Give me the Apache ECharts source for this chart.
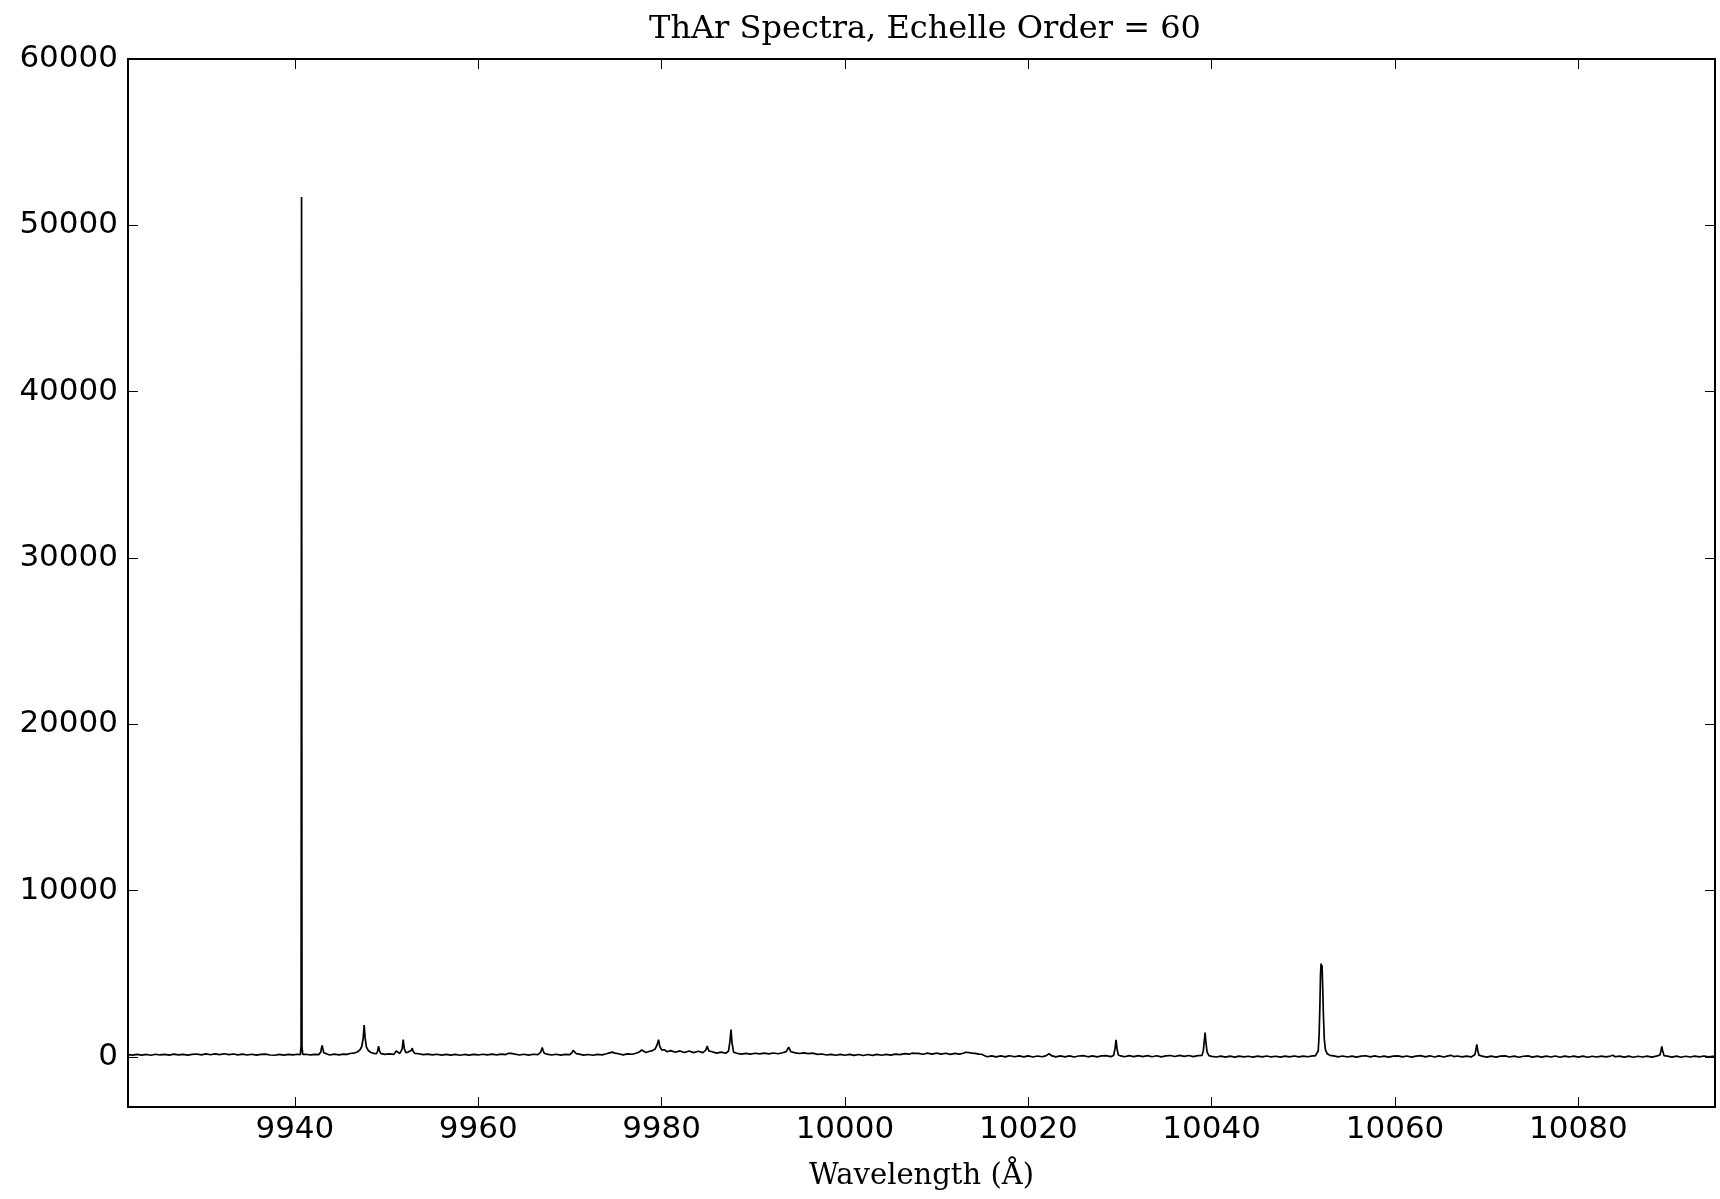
<!DOCTYPE html>
<html>
<head>
<meta charset="utf-8">
<title>ThAr Spectra, Echelle Order = 60</title>
<script src="https://cdn.jsdelivr.net/npm/echarts@6/dist/echarts.min.js"></script>
<style>
  html, body { margin: 0; padding: 0; background: #fff; }
  #chart { width: 1720px; height: 1199px; }
</style>
</head>
<body>
<div id="chart"></div>
<script>
// ThAr lamp spectrum, echelle order 60: [wavelength (Å), counts]
const spec9920to9960 = [
  [9921.8,150],[9922.3,118],[9922.8,165],[9923.3,122],[9923.8,158],[9924.3,110],[9924.8,170],[9925.3,128],
  [9925.8,162],[9926.3,115],[9926.8,175],[9927.3,132],[9927.8,168],[9928.3,120],[9928.8,160],[9929.3,185],
  [9929.8,135],[9930.3,190],[9930.8,140],[9931.3,195],[9931.8,150],[9932.3,200],[9932.8,145],[9933.3,188],
  [9933.8,138],[9934.3,182],[9934.8,125],[9935.3,172],[9935.8,118],[9936.3,165],[9936.8,178],[9937.3,126],
  [9937.8,112],[9938.3,168],[9938.8,122],[9939.3,160],[9939.8,130],[9940.3,170],[9940.6,140],
  [9940.68,700],[9940.73,51700],[9940.78,600],[9940.86,160],
  [9941.2,172],[9941.7,128],[9942.2,168],[9942.6,150],[9942.82,300],[9942.9,540],[9942.98,700],[9943.06,490],
  [9943.15,260],[9943.35,175],[9943.8,128],[9944.3,178],[9944.8,130],[9945.3,182],[9945.7,165],[9946.0,215],
  [9946.4,233],[9946.8,308],[9947.1,438],[9947.3,638],[9947.45,1120],[9947.56,1920],[9947.66,1170],[9947.8,620],
  [9948.0,400],[9948.3,280],[9948.6,220],[9948.9,200],[9949.02,350],[9949.13,660],[9949.24,360],[9949.4,210],
  [9949.8,160],[9950.3,195],[9950.8,165],[9950.95,280],[9951.05,370],[9951.15,250],[9951.45,220],[9951.7,480],
  [9951.82,1050],[9951.93,520],[9952.1,270],[9952.35,300],[9952.55,260],[9952.7,400],[9952.8,540],[9952.9,350],
  [9953.1,220],[9953.5,200],[9954.0,150],[9954.5,182],[9955.0,135],[9955.5,170],[9956.0,122],[9956.5,165],
  [9957.0,118],[9957.5,160],[9958.0,112],[9958.5,158],[9959.0,120],[9959.5,165],[9960.0,128]
];
const spec9960to10000 = [
  [9960.5,170],[9961.0,130],[9961.5,175],[9962.0,138],[9962.5,180],[9963.0,150],[9963.3,230],[9963.46,320],
  [9963.6,220],[9964.0,178],[9964.5,128],[9965.0,172],[9965.5,122],[9966.0,170],[9966.5,150],[9966.8,280],
  [9966.9,440],[9966.98,570],[9967.08,400],[9967.2,230],[9967.5,175],[9968.0,125],[9968.5,172],[9969.0,118],
  [9969.5,165],[9970.0,150],[9970.25,280],[9970.35,410],[9970.44,490],[9970.55,350],[9970.7,210],[9971.0,178],
  [9971.5,120],[9972.0,155],[9972.5,112],[9973.0,160],[9973.5,135],[9974.0,200],[9974.3,250],[9974.62,300],
  [9974.9,240],[9975.3,200],[9975.8,138],[9976.3,195],[9976.8,170],[9977.3,245],[9977.6,320],[9977.82,430],
  [9978.0,310],[9978.3,280],[9978.7,350],[9979.0,390],[9979.3,490],[9979.5,720],[9979.67,1050],[9979.8,640],
  [9980.0,440],[9980.3,440],[9980.6,320],[9981.0,390],[9981.5,290],[9982.0,370],[9982.5,280],[9983.0,365],
  [9983.5,270],[9984.0,350],[9984.5,270],[9984.8,400],[9984.98,670],[9985.15,370],[9985.5,320],[9986.0,235],
  [9986.5,300],[9987.0,230],[9987.3,360],[9987.45,920],[9987.57,1660],[9987.68,870],[9987.85,300],[9988.2,230],
  [9988.7,180],[9989.2,225],[9989.7,175],[9990.2,230],[9990.7,190],[9991.2,240],[9991.7,195],[9992.2,245],
  [9992.7,200],[9993.2,260],[9993.6,330],[9993.86,600],[9994.1,320],[9994.5,265],[9995.0,215],[9995.5,255],
  [9996.0,205],[9996.5,235],[9997.0,160],[9997.5,185],[9998.0,125],[9998.5,162],[9999.0,110],[9999.5,160]
];
const spec10000to10040 = [
  [10000.0,112],[10000.5,160],[10001.0,100],[10001.5,155],[10002.0,95],[10002.5,158],[10003.0,108],[10003.5,165],
  [10004.0,112],[10004.5,160],[10005.0,118],[10005.5,175],[10006.0,150],[10006.5,210],[10007.0,175],[10007.3,233],
  [10007.46,265],[10007.6,223],[10008.0,228],[10008.5,172],[10009.0,235],[10009.5,180],[10010.0,240],[10010.5,175],
  [10011.0,232],[10011.5,168],[10012.0,228],[10012.5,178],[10012.9,233],[10013.15,290],[10013.35,320],[10013.55,273],
  [10013.8,233],[10014.2,225],[10014.6,178],[10014.9,170],[10015.1,60],[10015.5,20],[10016.0,75],[10016.5,15],
  [10017.0,70],[10017.5,10],[10017.85,75],[10018.0,110],[10018.15,65],[10018.5,20],[10019.0,78],[10019.5,18],
  [10020.0,72],[10020.5,5],[10021.0,68],[10021.5,20],[10021.9,75],[10022.1,145],[10022.26,200],[10022.4,125],
  [10022.6,70],[10023.0,15],[10023.5,75],[10024.0,12],[10024.5,70],[10025.0,8],[10025.5,66],[10026.0,85],
  [10026.5,18],[10027.0,74],[10027.5,10],[10028.0,70],[10028.5,90],[10029.0,30],[10029.3,95],[10029.45,465],
  [10029.57,1030],[10029.68,495],[10029.82,125],[10030.1,70],[10030.5,18],[10031.0,85],[10031.5,25],[10032.0,92],
  [10032.5,30],[10033.0,88],[10033.5,22],[10034.0,80],[10034.5,15],[10035.0,75],[10035.5,95],[10036.0,35],
  [10036.5,105],[10037.0,40],[10037.5,98],[10038.0,30],[10038.5,85],[10038.95,105],[10039.1,415],[10039.2,1015],
  [10039.28,1470],[10039.37,915],[10039.5,295],[10039.7,85],[10040.0,45]
];
const spec10040to10095 = [
  [10040.5,5],[10041.0,60],[10041.5,0],[10042.0,55],[10042.5,-5],[10043.0,62],[10043.5,10],[10044.0,50],
  [10044.5,-2],[10045.0,58],[10045.5,12],[10046.0,65],[10046.5,8],[10047.0,52],[10047.5,0],[10048.0,60],
  [10048.5,15],[10049.0,68],[10049.5,10],[10050.0,62],[10050.5,20],[10051.0,70],[10051.3,75],[10051.5,125],
  [10051.62,365],[10051.72,1315],[10051.8,3015],[10051.87,4915],[10051.93,5620],[10051.99,5365],[10052.04,5515],[10052.11,4215],
  [10052.19,2515],[10052.28,1115],[10052.4,465],[10052.6,195],[10052.9,105],[10053.3,70],[10053.8,15],[10054.3,65],
  [10054.8,5],[10055.3,60],[10055.8,0],[10056.3,58],[10056.8,80],[10057.3,12],[10057.8,70],[10058.3,5],
  [10058.8,62],[10059.3,-5],[10059.8,55],[10060.3,75],[10060.8,10],[10061.3,68],[10061.8,0],[10062.3,60],
  [10062.8,85],[10063.3,15],[10063.8,78],[10064.3,8],[10064.8,70],[10065.3,5],[10065.8,75],[10066.1,105],
  [10066.4,30],[10066.8,65],[10067.3,15],[10067.8,60],[10068.3,10],[10068.7,135],[10068.82,435],[10068.92,765],
  [10069.02,415],[10069.15,115],[10069.5,60],[10070.0,0],[10070.5,58],[10071.0,-5],[10071.5,55],[10072.0,75],
  [10072.5,5],[10073.0,60],[10073.5,-8],[10074.0,52],[10074.5,70],[10075.0,0],[10075.5,62],[10076.0,-5],
  [10076.5,58],[10077.0,5],[10077.5,65],[10078.0,-10],[10078.5,55],[10079.0,8],[10079.5,62],[10080.0,-5],
  [10080.5,58],[10081.0,-10],[10081.5,52],[10082.0,5],[10082.5,60],[10083.0,10],[10083.5,62],[10083.76,110],
  [10084.0,20],[10084.5,60],[10085.0,-5],[10085.5,55],[10086.0,-8],[10086.5,52],[10087.0,5],[10087.5,60],
  [10088.0,0],[10088.5,55],[10088.9,125],[10089.0,365],[10089.1,645],[10089.2,345],[10089.35,85],[10089.7,60],
  [10090.2,0],[10090.7,58],[10091.2,-8],[10091.7,52],[10092.2,5],[10092.7,60],[10093.2,10],[10093.7,65],
  [10094.2,15],[10094.9,60]
];

const spectrum = [].concat(spec9920to9960, spec9960to10000, spec10000to10040, spec10040to10095);

const waveRange = [9921.8, 10094.9];
const countRange = [-3000, 60000];

const plainNumber = v => String(v);
const tickFont = { fontFamily: 'DejaVu Sans', fontSize: 31, color: '#000' };
const frameLine = { show: true, onZero: false, lineStyle: { color: '#000', width: 2 } };
const innerTick = { show: true, inside: true, length: 10, lineStyle: { color: '#000', width: 1 } };

const chart = echarts.init(document.getElementById('chart'), null, { renderer: 'canvas' });

chart.setOption({
  backgroundColor: '#fff',
  animation: false,
  title: {
    text: 'ThAr Spectra, Echelle Order = 60',
    left: 920,
    textAlign: 'center',
    top: 9,
    textStyle: { fontFamily: 'DejaVu Serif', fontSize: 32, fontWeight: 'normal', color: '#000' }
  },
  grid: { left: 128, right: 5, top: 59, bottom: 92, containLabel: false },
  xAxis: [
    {
      type: 'value', position: 'bottom',
      min: waveRange[0], max: waveRange[1], splitNumber: 8,
      axisLine: frameLine, axisTick: innerTick, splitLine: { show: false },
      axisLabel: Object.assign({ margin: 7, showMinLabel: false, showMaxLabel: false, formatter: plainNumber }, tickFont),
      name: 'Wavelength (Å)', nameLocation: 'middle', nameGap: 55,
      nameTextStyle: { fontFamily: 'DejaVu Serif', fontSize: 29, color: '#000' }
    },
    {
      type: 'value', position: 'top',
      min: waveRange[0], max: waveRange[1], splitNumber: 8,
      axisLine: frameLine, axisTick: innerTick, splitLine: { show: false },
      axisLabel: { show: false }
    }
  ],
  yAxis: [
    {
      type: 'value', position: 'left',
      min: countRange[0], max: countRange[1], splitNumber: 6,
      axisLine: frameLine, axisTick: innerTick, splitLine: { show: false },
      axisLabel: Object.assign({ margin: 10, showMinLabel: false, formatter: plainNumber }, tickFont)
    },
    {
      type: 'value', position: 'right',
      min: countRange[0], max: countRange[1], splitNumber: 6,
      axisLine: frameLine, axisTick: innerTick, splitLine: { show: false },
      axisLabel: { show: false }
    }
  ],
  series: [
    {
      type: 'line',
      xAxisIndex: 0, yAxisIndex: 0,
      data: spectrum,
      showSymbol: false,
      symbol: 'none',
      sampling: null,
      lineStyle: { color: '#000', width: 1.7 },
      clip: true,
      z: 2
    }
  ]
});
</script>
</body>
</html>
